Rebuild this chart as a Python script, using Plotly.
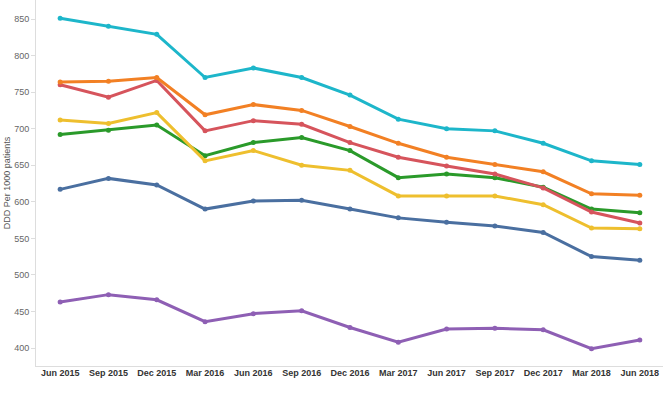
import plotly.graph_objects as go

quarters = ["Jun 2015", "Sep 2015", "Dec 2015", "Mar 2016", "Jun 2016", "Sep 2016",
            "Dec 2016", "Mar 2017", "Jun 2017", "Sep 2017", "Dec 2017", "Mar 2018", "Jun 2018"]

teal = [851, 840, 829, 770, 783, 770, 746, 713, 700, 697, 680, 656, 651]
orange = [764, 765, 770, 719, 733, 725, 703, 680, 661, 651, 641, 611, 609]
red = [760, 743, 766, 697, 711, 706, 681, 661, 649, 638, 619, 586, 571]
yellow = [712, 707, 722, 656, 670, 650, 643, 608, 608, 608, 596, 564, 563]
green = [692, 698, 705, 663, 681, 688, 670, 633, 638, 633, 620, 590, 585]
blue = [617, 632, 623, 590, 601, 602, 590, 578, 572, 567, 558, 525, 520]
purple = [463, 473, 466, 436, 447, 451, 428, 408, 426, 427, 425, 399, 411]

y_ticks = [400, 450, 500, 550, 600, 650, 700, 750, 800, 850]

series = [
    (teal, "#1DB6CA"),
    (orange, "#F28024"),
    (red, "#D6545C"),
    (yellow, "#EEBF2E"),
    (green, "#2A9A2A"),
    (blue, "#4A6FA0"),
    (purple, "#8E5FB4"),
]

fig = go.Figure()
xs = list(range(len(quarters)))
for vals, col in reversed(series):
    fig.add_trace(go.Scatter(
        x=xs, y=vals, mode="lines+markers",
        line=dict(color=col, width=3),
        marker=dict(color=col, size=5),
        showlegend=False,
    ))

fig.update_layout(
    width=663, height=394,
    margin=dict(l=36, r=0, t=0, b=28),
    paper_bgcolor="white", plot_bgcolor="white",
    font=dict(family="Liberation Sans, Arial, sans-serif"),
    xaxis=dict(
        tickmode="array", tickvals=xs, ticktext=quarters,
        range=[-0.5, 12.48], showgrid=False, zeroline=False,
        showline=True, linecolor="#dddddd", linewidth=1,
        ticks="", ticklabelstandoff=-2, automargin=False,
        tickfont=dict(size=9, color="#333333", weight="bold"),
    ),
    yaxis=dict(
        range=[375.4, 876], tickvals=y_ticks,
        showgrid=False, zeroline=False, automargin=False,
        showline=True, linecolor="#dddddd", linewidth=1,
        ticks="outside", ticklen=4, tickcolor="#dddddd",
        tickfont=dict(size=9, color="#666666"),
        title=dict(text="DDD Per 1000 patients", font=dict(size=9, color="#555555"), standoff=2),
    ),
)

fig.write_html(
    "out.html",
    config={"displayModeBar": False},
    post_script="document.body.style.margin='0';document.body.style.overflow='hidden';",
)
